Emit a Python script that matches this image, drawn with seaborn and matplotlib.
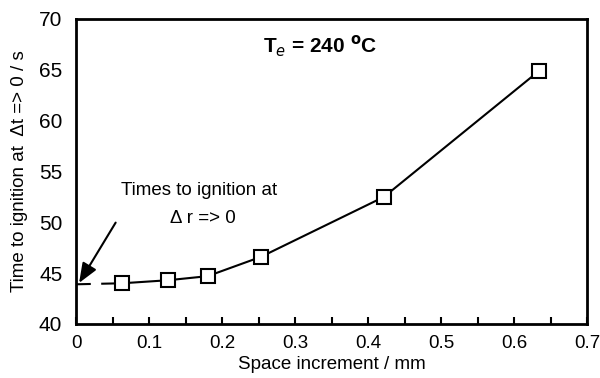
import matplotlib
matplotlib.use("Agg")
import matplotlib.pyplot as plt
import seaborn as sns
import pandas as pd
from matplotlib.ticker import MultipleLocator

space_mm = [0.063, 0.126, 0.180, 0.253, 0.4215, 0.634]
time_s = [44.0, 44.3, 44.7, 46.6, 52.5, 64.9]
extrap_x = [0.0, 0.063]
extrap_y = [43.9, 44.0]

sns.set_theme(style="ticks")
plt.rcParams['font.family'] = ['Liberation Sans', 'DejaVu Sans']
plt.rcParams.update({"text.color": "black", "axes.labelcolor": "black",
                     "xtick.color": "black", "ytick.color": "black"})

fig = plt.figure(figsize=(6, 3.78), dpi=100)
ax = fig.add_axes([0.127, 0.143, 0.852, 0.807])

df = pd.DataFrame({"x": space_mm, "y": time_s})
sns.lineplot(data=df, x="x", y="y", ax=ax, color="black", lw=1.5,
             marker="s", markersize=10, markerfacecolor="white",
             markeredgecolor="black", markeredgewidth=1.5, zorder=3)
sns.lineplot(x=extrap_x, y=extrap_y, ax=ax, color="black", lw=1.5,
             linestyle=(0, (7, 5)), zorder=2)

ax.set_xlim(0, 0.7)
ax.set_ylim(40, 70)
ax.xaxis.set_minor_locator(MultipleLocator(0.05))
ax.yaxis.set_major_locator(MultipleLocator(5))
ax.set_xticks([0, 0.1, 0.2, 0.3, 0.4, 0.5, 0.6, 0.7])
ax.set_xticklabels(["0", "0.1", "0.2", "0.3", "0.4", "0.5", "0.6", "0.7"])
ax.tick_params(axis="x", which="both", direction="in", length=5, width=1.5,
               labelsize=13.5, pad=8, top=False, colors="black")
ax.tick_params(axis="y", which="both", length=0, labelsize=15, pad=10,
               colors="black")
for s in ax.spines.values():
    s.set_linewidth(2)
    s.set_color("black")

ax.set_xlabel("Space increment / mm", fontsize=13.5, labelpad=3, color="black")
ax.set_ylabel("Time to ignition at  \u0394t => 0 / s", fontsize=13.5,
              labelpad=8, color="black")

ax.text(0.334, 67.3, r"T$_\mathbf{\it{e}}$ = 240 $^\mathbf{o}$C", fontsize=15,
        fontweight="bold", ha="center", va="center", color="black")
ax.text(0.168, 53.1, "Times to ignition at", fontsize=13.5, ha="center",
        va="center", color="black")
ax.text(0.173, 50.4, "\u0394 r => 0", fontsize=13.5, ha="center",
        va="center", color="black")
ax.annotate("", xy=(0.002, 43.8), xytext=(0.056, 50.2),
            arrowprops=dict(arrowstyle="-|>,head_length=1.0,head_width=0.4",
                            color="black", lw=1.5))

fig.savefig("out.png", dpi=100)
